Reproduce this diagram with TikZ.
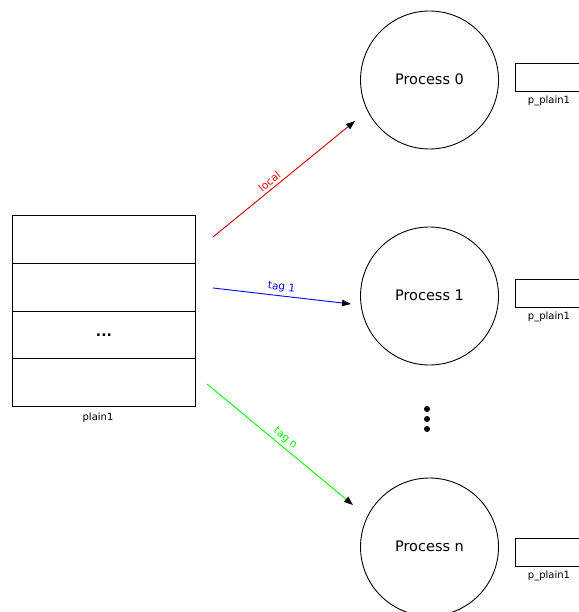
\documentclass[tikz,border=0pt]{standalone}
\usepackage{fontspec}
\setmainfont{DejaVu Sans}
\usetikzlibrary{arrows.meta}
\definecolor{lred}{RGB}{204,0,0}
\definecolor{tred}{RGB}{255,0,0}
\definecolor{lblue}{RGB}{0,0,255}
\definecolor{lgreen}{RGB}{0,255,0}
\tikzset{
  cell/.style={draw, line width=0.9pt, minimum width=183pt, minimum height=47.75pt, anchor=north west, inner sep=0pt},
  proc/.style={draw, line width=0.9pt, circle, minimum size=138pt, inner sep=0pt, font=\fontsize{14.5}{17}\selectfont},
  buf/.style={draw, line width=0.9pt, minimum width=80pt, minimum height=28pt, anchor=north west, inner sep=0pt},
  lbl/.style={font=\fontsize{10}{12}\selectfont, inner sep=0pt},
  msg/.style={line width=0.9pt, -{Triangle[length=9pt,width=6.5pt,black]}},
  tagl/.style={font=\fontsize{10.5}{12}\selectfont, sloped, inner sep=3pt},
  vdot/.style={fill=black, draw=none, circle, minimum size=6pt, inner sep=0pt}
}
\begin{document}
\begin{tikzpicture}[x=1pt,y=-1pt]
\useasboundingbox (0,0) rectangle (578,612);

% source buffer
\node[cell] (c1) at (12,215) {};
\node[cell] (c2) at (12,262.75) {};
\node[cell] (c3) at (12,310.5) {\raisebox{-1.5pt}{\fontsize{14}{16}\selectfont\bfseries ...}};
\node[cell] (c4) at (12,358.25) {};
\node[lbl] (plain) at (98,418) {plain1};

% processes
\node[proc] (p0) at (429.5,80) {\raisebox{2.5pt}{Process 0}};
\node[proc] (p1) at (429.5,296) {\raisebox{2.5pt}{Process 1}};
\node[proc] (pn) at (429.5,547) {\raisebox{2.5pt}{Process n}};

\node[vdot] (d1) at (427,409) {};
\node[vdot] (d2) at (427,419) {};
\node[vdot] (d3) at (427,429) {};

% local buffers
\node[buf] (b0) at (515,63) {};
\node[lbl] (b0l) at (549,101) {p\_plain1};
\node[buf] (b1) at (515,279) {};
\node[lbl] (b1l) at (549,317) {p\_plain1};
\node[buf] (bn) at (515,538) {};
\node[lbl] (bnl) at (549,576) {p\_plain1};

% messages
\coordinate (s0) at (213,237);
\coordinate (e0) at (355,121);
\coordinate (s1) at (213,288);
\coordinate (e1) at (351,304);
\coordinate (sn) at (207,384);
\coordinate (en) at (353,505);

\draw[msg, lred] (s0) -- node[tagl, pos=0.43, above, text=tred] {local} (e0);
\draw[msg, lblue] (s1) -- node[tagl, pos=0.49, above, text=lblue] {tag 1} (e1);
\draw[msg, lgreen] (sn) -- node[tagl, pos=0.5, above, text=lgreen] {tag n} (en);
\end{tikzpicture}
\end{document}
